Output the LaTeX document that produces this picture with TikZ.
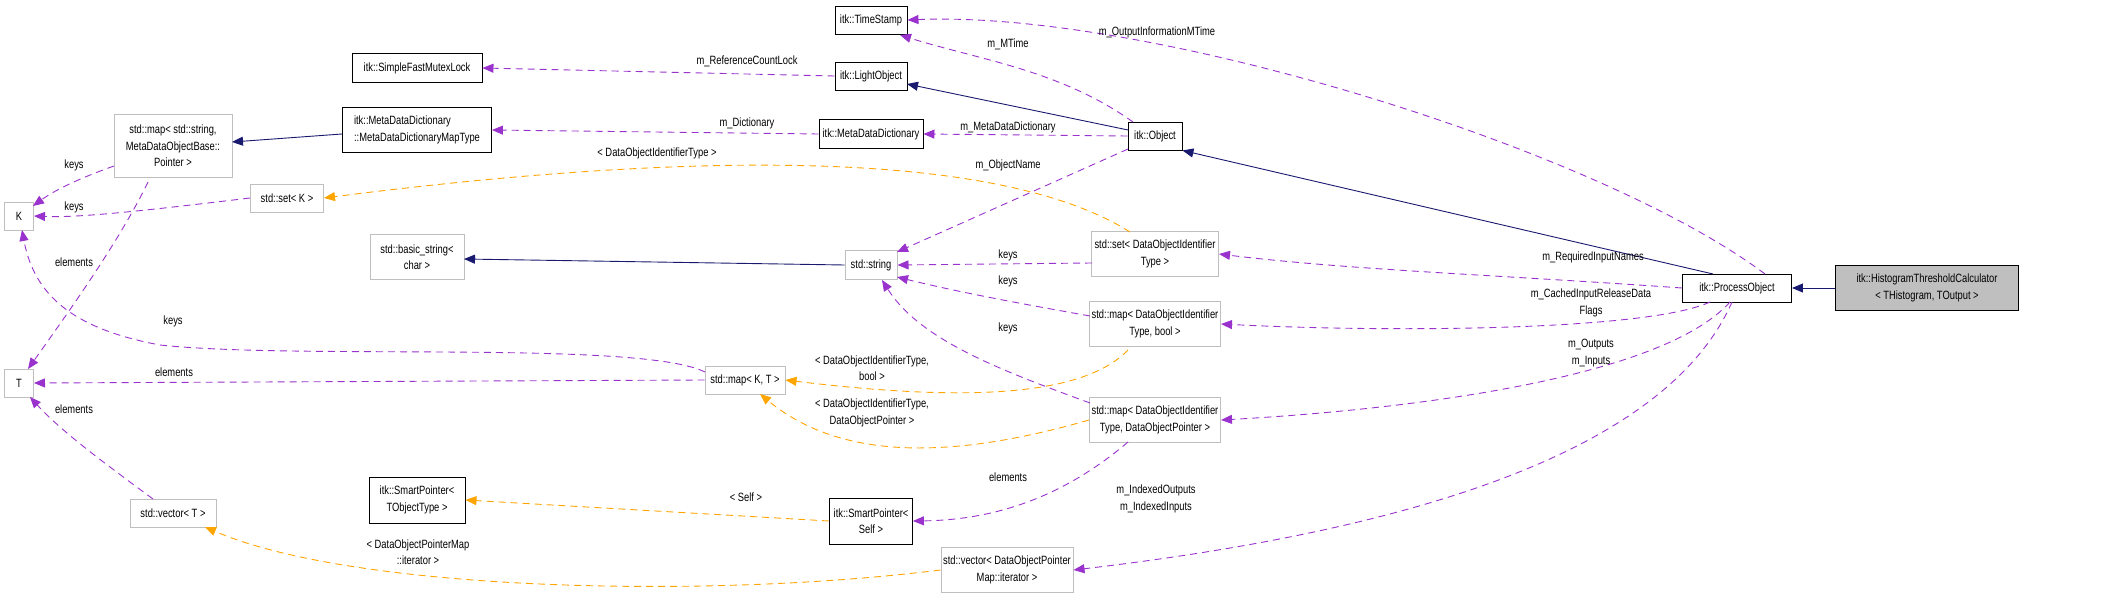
\documentclass[tikz,border=0pt]{standalone}
\usepackage{fontspec}
\setmainfont[FakeStretch=0.78]{Liberation Sans}
\usetikzlibrary{arrows.meta}
\definecolor{pur}{HTML}{9A32CD}
\definecolor{orn}{HTML}{FFA500}
\definecolor{nav}{HTML}{191970}
\definecolor{gbr}{HTML}{BFBFBF}
\begin{document}
\begin{tikzpicture}[x=1pt,y=-1pt,
  every node/.style={font=\fontsize{12}{16.5}\selectfont,inner sep=0pt,align=center},
  blk/.style={draw=black,line width=0.9pt,fill=white},
  gry/.style={draw=gbr,line width=1pt,fill=white},
  lbl/.style={font=\fontsize{12}{16.5}\selectfont},
  inh/.style={draw=nav,line width=0.9pt,-{Triangle[length=11pt,width=9pt]}},
  usg/.style={draw=pur,line width=0.9pt,dash pattern=on 7pt off 5pt,-{Triangle[length=11pt,width=9pt]}},
  tpl/.style={draw=orn,line width=0.9pt,dash pattern=on 7pt off 5pt,-{Triangle[length=11pt,width=9pt]}}]
\useasboundingbox (0,0) rectangle (2128,599);
% nodes
\node[blk,minimum width=130,minimum height=29] (mutex) at (417,68) {itk::SimpleFastMutexLock};
\node[blk,minimum width=149,minimum height=45,align=left] (maptype) at (417,130) {itk::MetaDataDictionary\\::MetaDataDictionaryMapType};
\node[gry,minimum width=118,minimum height=63] (mapss) at (173,146) {std::map\textless{} std::string,\\ MetaDataObjectBase::\\Pointer \textgreater{}};
\node[gry,minimum width=29,minimum height=28] (K) at (19,216) {K};
\node[gry,minimum width=73,minimum height=28] (setK) at (287,198) {std::set\textless{} K \textgreater{}};
\node[gry,minimum width=94,minimum height=45] (bstr) at (417,257) {std::basic\_string\textless{}\\char \textgreater{}};
\node[gry,minimum width=29,minimum height=28] (T) at (19,383) {T};
\node[gry,minimum width=86,minimum height=28] (vecT) at (173,513) {std::vector\textless{} T \textgreater{}};
\node[blk,minimum width=96,minimum height=46] (spT) at (417,500) {itk::SmartPointer\textless{}\\TObjectType \textgreater{}};
\node[blk,minimum width=72,minimum height=28] (ts) at (871,20) {itk::TimeStamp};
\node[blk,minimum width=72,minimum height=28] (lo) at (871,76) {itk::LightObject};
\node[blk,minimum width=104,minimum height=29] (mdd) at (871,134) {itk::MetaDataDictionary};
\node[blk,minimum width=54,minimum height=28] (obj) at (1155,136) {itk::Object};
\node[gry,minimum width=52,minimum height=29] (str) at (871,265) {std::string};
\node[gry,minimum width=127,minimum height=45] (setD) at (1155,254) {std::set\textless{} DataObjectIdentifier\\Type \textgreater{}};
\node[gry,minimum width=131,minimum height=45] (mapB) at (1155,324) {std::map\textless{} DataObjectIdentifier\\Type, bool \textgreater{}};
\node[gry,minimum width=80,minimum height=28] (mapKT) at (745,380) {std::map\textless{} K, T \textgreater{}};
\node[gry,minimum width=131,minimum height=45] (mapP) at (1155,420) {std::map\textless{} DataObjectIdentifier\\Type, DataObjectPointer \textgreater{}};
\node[blk,minimum width=83,minimum height=46] (spS) at (871,521) {itk::SmartPointer\textless{}\\Self \textgreater{}};
\node[gry,minimum width=132,minimum height=45] (vecD) at (1007,570) {std::vector\textless{} DataObjectPointer\\Map::iterator \textgreater{}};
\node[blk,minimum width=109,minimum height=28] (po) at (1737,288) {itk::ProcessObject};
\node[draw=black,line width=0.9pt,fill=gbr,minimum width=183,minimum height=45] (hist) at (1927,288) {itk::HistogramThresholdCalculator\\\textless{} THistogram, TOutput \textgreater{}};
% inheritance
\draw[inh] (hist.west) -- (po.east);
\draw[inh] (1713,274) -- (obj.south east);
\draw[inh] (1128,130) -- (907,84);
\draw[inh] (342,134) -- (232,142);
\draw[inh] (str.west) -- (464,259);
% usage
\draw[usg] (1765,274) .. controls (1600,150) and (1150,10) .. (ts.east);
\node[lbl] (l1) at (1157,32) {m\_OutputInformationMTime};
\draw[usg] (1133,122) .. controls (1060,70) and (980,60) .. (900,35);
\node[lbl] (l2) at (1008,44) {m\_MTime};
\draw[usg] (lo.west) -- (mutex.east);
\node[lbl] (l3) at (747,61) {m\_ReferenceCountLock};
\draw[usg] (mdd.west) -- (maptype.east);
\node[lbl] (l4) at (747,123) {m\_Dictionary};
\draw[usg] (obj.west) -- (mdd.east);
\node[lbl] (l5) at (1008,127) {m\_MetaDataDictionary};
\draw[usg] (1128,149) -- (897,252);
\node[lbl] (l6) at (1008,165) {m\_ObjectName};
\draw[usg] (1092,263) -- (str.east);
\node[lbl] (l7) at (1008,255) {keys};
\draw[usg] (1090,316) .. controls (1000,300) and (950,290) .. (897,277);
\node[lbl] (l8) at (1008,281) {keys};
\draw[usg] (1090,403) .. controls (1000,370) and (920,340) .. (882,280);
\node[lbl] (l9) at (1008,328) {keys};
\draw[usg] (po.west) .. controls (1500,275) and (1350,270) .. (setD.east);
\node[lbl] (l10) at (1593,257) {m\_RequiredInputNames};
\draw[usg] (1710,302) .. controls (1650,330) and (1400,333) .. (mapB.east);
\node[lbl] (l11) at (1591,303) {m\_CachedInputReleaseData\\Flags};
\draw[usg] (1730,302) .. controls (1660,380) and (1400,410) .. (mapP.east);
\node[lbl] (l12) at (1591,353) {m\_Outputs\\m\_Inputs};
\draw[usg] (1732,302) .. controls (1680,420) and (1500,520) .. (vecD.east);
\node[lbl] (l13) at (1156,499) {m\_IndexedOutputs\\m\_IndexedInputs};
\draw[usg] (1128,442) .. controls (1060,500) and (990,520) .. (spS.east);
\node[lbl] (l14) at (1008,477) {elements};
\draw[usg] (114,166) .. controls (80,178) and (55,190) .. (33,206);
\node[lbl] (l15) at (74,165) {keys};
\draw[usg] (setK.west) .. controls (150,210) and (80,218) .. (K.east);
\node[lbl] (l16) at (74,207) {keys};
\draw[usg] (705,372) .. controls (640,340) and (300,360) .. (160,345) .. controls (80,330) and (35,300) .. (22,230);
\node[lbl] (l17) at (173,321) {keys};
\draw[usg] (148,182) .. controls (120,240) and (70,310) .. (28,369);
\node[lbl] (l18) at (74,262) {elements};
\draw[usg] (mapKT.west) -- (T.east);
\node[lbl] (l19) at (174,372) {elements};
\draw[usg] (153,499) .. controls (100,460) and (60,430) .. (30,397);
\node[lbl] (l20) at (74,409) {elements};
% templates
\draw[tpl] (1130,232) .. controls (1000,150) and (700,150) .. (setK.east);
\node[lbl] (l21) at (657,153) {\textless{} DataObjectIdentifierType \textgreater{}};
\draw[tpl] (1128,350) .. controls (1080,400) and (950,400) .. (mapKT.east);
\node[lbl] (l22) at (872,368) {\textless{} DataObjectIdentifierType,\\bool \textgreater{}};
\draw[tpl] (mapP.west) .. controls (950,460) and (840,460) .. (760,394);
\node[lbl] (l23) at (872,413) {\textless{} DataObjectIdentifierType,\\DataObjectPointer \textgreater{}};
\draw[tpl] (spS.west) -- (spT.east);
\node[lbl] (l24) at (746,497) {\textless{} Self \textgreater{}};
\draw[tpl] (vecD.west) .. controls (700,600) and (350,590) .. (205,527);
\node[lbl] (l25) at (418,552) {\textless{} DataObjectPointerMap\\::iterator \textgreater{}};
\end{tikzpicture}
\end{document}
